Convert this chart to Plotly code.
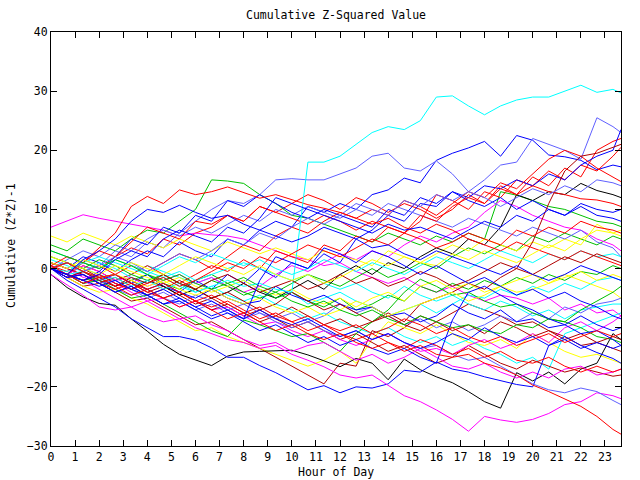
import plotly.graph_objects as go

# x positions: every 40 minutes from 0h, last sample at the right edge (23h40)
HOURS = [round(i * 2 / 3, 3) for i in range(36)] + [23.667]

# colours used by the original gnuplot chart
RED, GREEN, BLUE, MAGENTA, CYAN = "#ff0000", "#00c000", "#0000ff", "#ff00ff", "#00ffff"
DARKRED, YELLOW, BLACK, SLATE = "#b00000", "#ffff00", "#000000", "#6060ff"

cyan1 = [0, -1, -0.5, -2, -1.5, -3, -2, -3.5, -2.5, -4, -3, -2, -3, -2.5, -3.5, -4, 18, 18, 19, 21,
         23, 24, 23.5, 25, 29, 29.2, 27.5, 26, 27.5, 28.5, 29, 29, 30, 31, 29.8, 30.3, 29.7]
slate1 = [0, -1, 1.5, 0.5, 3, 2, 4.5, 3.5, 6, 8, 10, 11.5, 11, 12.5, 15, 15.2, 15, 15, 16, 17,
          19, 19.5, 17, 16.5, 18.2, 16, 13, 15, 17.5, 18, 22, 21, 20, 18.5, 25.5, 24, 23]
blue1 = [1, 0, 2, 1, -0.5, 1.5, 3, 2, 4.5, 3, 2, 5, 4, 6.5, 8, 7, 10.5, 9.5, 11, 10,
         12.5, 13.3, 15.3, 14.5, 18.3, 19.5, 20.4, 21.5, 19, 22.5, 21.7, 19.2, 18.9, 18.3, 16.7, 17.5, 17.2]
blue2 = [0, -1.5, -0.5, -2, -1, -2.5, -1, -3, -4, -2, -3.5, -1, -2.5, 0, -1.5, 1, 0, 2.5, 1, 5,
         6.5, 9, 8, 11, 10.5, 13, 12, 14, 13.5, 15, 14, 16, 15, 17.5, 19, 20, 23.5]
red1 = [0.5, -0.5, 1, 0, 2, 3.5, 2.5, 5, 4, 6, 7, 9, 8, 10.5, 9.5, 11, 12.5, 11.5, 10, 12,
        11, 9.5, 11, 10, 8.5, 10, 12.5, 11, 14, 12.5, 15.5, 14, 17, 15.5, 20, 21.5, 22]
red2 = [0, -1, 0.5, -0.5, -2, -1, 0.5, -1, -2.5, -1, 0.5, -0.5, 1.5, 0, 3, 2, 1, 4, 3, 5.5,
        4.5, 7, 6, 8, 12.5, 11.5, 10, 13, 12, 15, 14, 16.5, 15, 17.5, 16.5, 19, 20.5]
red3 = [0, 1, -0.5, 0.5, -1, 0.5, -0.5, 1, 2.5, 1.5, 0, 2, 4, 3, 5.5, 7, 6, 8, 9.5, 8.5,
        10, 9, 11.5, 10.5, 9, 11, 13, 12, 14.5, 13.5, 16, 18.5, 20, 19, 17, 15.5, 14.7]
red4 = [0, -1, 1, 3, 2, 4.5, 7, 6, 5, 8, 7.5, 9, 8, 10.5, 9.5, 8.5, 7.5, 9, 8, 6.5,
        8, 7, 6, 9, 8, 10.5, 12, 11, 13.5, 12.5, 14, 13, 12.5, 11.8, 11.6, 11, 10.5]
blue3 = [0, -1, -2, -0.5, 2, 5, 4, 7, 6, 9, 8, 11.5, 10.5, 12.5, 11, 9.5, 8.5, 10, 9, 8,
         7, 10, 9, 12, 11, 13, 11.5, 10.5, 12, 10, 11.5, 10, 9, 10.5, 9, 8.5, 8]
blue4 = [0, 1, -0.5, -1.5, -1, -2.5, -3.5, -2.5, -4, -5, -3.5, -5, -6, -5.5, -3, -4.5, -5.5, -4.5, -6, -7,
         -6.5, -8, -7.5, -9, -8, -6, -7.5, -8.5, -7, -9, -8.5, -10, -9.5, -8, -9.5, -10.5, -10]
blue5 = [0, -2, -3.5, -5, -6.5, -8.5, -10, -11.5, -11.5, -12.1, -13.4, -15, -15, -16.4, -17.6, -19, -20.5, -19.8, -21, -20,
         -20.2, -19.5, -17.2, -17.5, -15.8, -17, -17.5, -18.3, -19, -19.6, -20, -13, -11.5, -13, -14.2, -15.2, -16]
blue6 = [0, -1.5, -1, -2.5, -4, -3, -4.5, -6, -5.5, -7, -8.5, -7.5, -9, -10.5, -9.5, -11, -12.5, -11.5, -13, -12,
         -13.5, -14.5, -13.5, -15, -16, -8.7, -4, -3, -4.5, -6, -7, -8.5, -9.5, -11, -10.5, -12, -13]
black1 = [-1, -3.2, -4.8, -5.9, -6.2, -8.5, -10.6, -12.8, -14.5, -15.4, -16.4, -14.8, -14.1, -14, -13.9, -13.8, -14.6, -15.6, -16.6, -15.2,
          -16, -18.8, -15.3, -17.1, -18.3, -19.3, -20.8, -22.5, -23.6, -17.6, -19, -17.5, -19.5, -17, -16, -11, -12]
black2 = [0, -1, -2, -1, -2.5, -3.5, -2, -3, -4.5, -3.5, -5, -4, -2.5, -4, -5, -3.5, -2, -3.5, -1, 0.5,
          -1, 1, 0, 2, 3.5, 2.5, 5, 4, 7, 12.5, 11.5, 13, 12.5, 14.4, 13.2, 12.5, 12]
mag_bottom = [-1, -2.8, -4.5, -6.5, -7, -6.5, -8, -9, -8.5, -10, -11, -12, -12.5, -13.5, -13, -14.5, -15.5, -16.6, -18, -18.5,
              -18, -19.7, -21.5, -22.5, -23.9, -25.5, -27.5, -25, -25.6, -26, -25.5, -24.5, -23, -22.5, -21, -21.5, -22]
red_bottom = [0.5, -1, -2.5, -1.5, -3, -4.5, -3.5, -5, -6.5, -5.5, -7, -8.5, -7.5, -9, -10.5, -9.5, -11, -12, -11, -12.5,
              -13.5, -12.5, -14, -13, -14.5, -15, -14.5, -16, -16.8, -18, -19.7, -20.8, -22, -23.3, -25, -27.2, -28]
slate_bottom = [0, -1.5, -1, -2.5, -2, -3.5, -5, -4, -5.5, -7, -6, -7.5, -8.5, -7.5, -9, -10, -9, -10.5, -11.5, -10.5,
                -12, -11, -12.5, -13.5, -13, -14.5, -15.5, -15, -16.5, -18, -19.5, -20.5, -21, -20.2, -20.8, -22.3, -23]
green1 = [4, 3, 5, 4, 3, 5, 6.5, 6, 8, 10, 15, 14.8, 14.4, 12.5, 11, 9, 8.5, 7.5, 6.5, 5.5,
          4.5, 6, 5, 4, 5.5, 4.5, 6, 5, 13, 12.4, 11.5, 10.5, 10, 9, 8, 7.6, 7.1]
green2 = [0, -1, -2, -1.5, -3, -2, -1, -2.5, -3.5, -2, -1, -2.5, -1.5, -3, -4, -2.5, -1, -2, -3, -1.5,
          0, -1.5, -0.5, 1, 0, 2, 3.5, 2.5, 4, 3, 5.5, 4.5, 6, 5, 4, 5.5, 5]
green3 = [2, 1, 0, 1.5, 0.5, -1, -2, -1, -2.5, -3.5, -2, -3, -4.5, -3.5, -5, -4, -5.5, -6.5, -5, -7,
          -6, -4.5, -5.5, -3, -4, -2.5, -3.5, -2, -3, -1.5, -2.5, -1, -2, -0.5, -1, 0.5, 0]
green4 = [0.5, -1, -2.5, -2, -3.5, -5, -4.5, -6, -7.5, -9, -10.5, -11.5, -8.7, -9.5, -10.5, -11.5, -11, -12.5, -14, -11,
          -9, -7, -4, -1.8, -3, -4.5, -4, -5.5, -6.5, -6, -7.5, -8.5, -9, -10, -11.5, -12, -12.5]
green5 = [3, 2, 1, 0, 1.5, 0.5, -1, -2, -1, -2.5, -3.5, -2.5, -4, -5, -4, -5.5, -6.5, -5.5, -7, -8,
          -7, -8.5, -9.5, -8, -9, -10, -9.5, -10.5, -11, -9.5, -10, -8.5, -9, -7, -5.5, -4, -3]
red5 = [0.5, 2, 1, 3.5, 6, 10.5, 12.2, 11, 13.3, 12.5, 13, 13.8, 12.8, 11.9, 12.5, 11.6, 10.8, 10.2, 9.5, 8.5,
        7.5, 8.5, 7, 6, 7.5, 6.5, 5, 4, 3, 4.5, 3.5, 2.5, 1.5, 3, 2, 1, 0.5]
darkred1 = [0, -1.5, -3, -2.5, -4, -5.5, -5, -6.5, -8, -9.5, -9, -10.5, -12, -13.5, -15, -16.5, -18, -19.5, -16, -16.5,
            -10.5, -11.5, -10, -8, -9, -7.5, -6, -7, -8, -9.5, -9, -10.5, -11.5, -13, -12.5, -13.5, -14]
darkred2 = [0, 1, 0, -1.5, -1, -2.5, -4, -3, -4.5, -6, -5, -6.5, -8, -7, -8.5, -10, -9, -10.5, -12, -11,
            -12.5, -14, -13, -14.5, -16, -15, -13, -14.5, -16, -17, -15.5, -16.5, -17.5, -16.8, -17.5, -18.2, -18]
darkred3 = [0, -1, -2.5, -1.5, -3, -2, -3.5, -5, -4, -5.5, -7, -6, -7.5, -9, -8, -6.5, -8, -9.5, -8.5, -10,
            -9, -7.5, -9, -6, -5, -4, -2.5, -3.5, -1.5, 0, 4.5, 11, 16.5, 19, 19.5, 20.5, 21]
darkred4 = [1, 0, -1, -2.5, -1.5, -3, -4.5, -3.5, -2, -3.5, -5, -4, -5.5, -7, -6, -4, -5.5, -7, -6, -7.5,
            -9, -8, -9.5, -10.5, -9, -10.5, -9.5, -11, -9, -10, -11.5, -10.5, -12, -11, -12.5, -11.5, -12]
darkred5 = [0, -1.5, -0.5, -2, -3, -1.5, -2.5, -1, -2.5, -3.5, -2, -1, -2.5, -4, -3, -2, -3.5, -2.5, -1, -2.5,
            -1.5, -3, -2, -0.5, -1.5, -3, -2, -0.5, 1, 0, -1, 0.5, 2, 1, 2.5, 1.5, 1]
yellow1 = [0, -1.5, -3, -4, -3.5, -5, -6, -7.5, -9, -10.5, -10, -11.5, -12.5, -13.5, -14.5, -15.5, -16.5, -15.5, -14, -16,
           -12, -9, -10, -11, -9.5, -11, -12.5, -13, -12, -13.5, -11, -12.5, -14, -15, -14.5, -15.5, -16]
yellow2 = [5.5, 4.5, 6, 5, 4, 5.5, 4.5, 3.5, 5, 4, 3, 4.5, 3.5, 2.5, 3.5, 2.5, 1.5, 3, 2, 1.5,
           0.5, 3, 2, 1, 2.5, 4, 3, 5, 4, 3, 4.5, 3.5, 5, 4, 7.5, 6, 5.5]
yellow3 = [2, 1, 0, -1, 0.5, -0.5, -1.5, -2.5, -1.5, -3, -4, -3, -2, -3.5, -4.5, -3.5, -5, -6, -5, -6.5,
           -5, -4, -5.5, -3, -2, -3.5, -2.5, -4, -3, -2, -1, -2.5, -1.5, -0.5, -2, -1, -1.5]
yellow4 = [0, 1, -0.5, -1.5, -1, -2, -3, -2, -3.5, -4.5, -3.5, -5, -6, -5, -6.5, -7.5, -6.5, -8, -7, -5.5,
           -6.5, -8, -7, -6, -5, -4, -5.5, -4.5, -3, -4, -3.5, -2.5, -1, -2, -3, -4, -5]
yellow5 = [1, 0, 1.5, 0.5, -0.5, 1, 0, -1, 0.5, 2, 1, 0, -1, 0.5, -1, -2, -1, -2.5, -1.5, 0,
           1.5, 0.5, 2, 1, 0.5, 2.5, 1.5, 3, 2, 1, 2.5, 4, 3, 5, 6.5, 6, 6.5]
magenta1 = [7, 8, 9.1, 8.5, 8, 7.5, 7, 6.5, 5.5, 6, 5.7, 5.5, 5, 4, 3, 2, 1.5, 0.5, 1, -0.5,
            -1.5, -2.5, -1.5, -3, -4, -3, -4.5, -5.5, -4.5, -5, -6, -5, -7, -6, -7.5, -7, -8]
magenta2 = [0, -1, 0.5, -0.5, -2, -1.5, -3, -2, -1, -2.5, -1.5, -3, -4, -3, -1, 0.5, -0.5, 1, 2.5, 1.5,
            3, 2, 4, 5.5, 4.5, 6, 7, 9.5, 11.5, 10.5, 9, 8, 7, 6.5, 5, 4, 3]
magenta3 = [1, 0, -1.5, -1, -2.5, -4, -5.5, -5, -6.5, -5.5, -7, -6.5, -8, -9.5, -9, -10.5, -11.5, -10.5, -12, -13,
            -12, -11, -12.5, -14, -13.5, -14.5, -13, -12, -13.5, -12.5, -11, -12.5, -10, -9, -10.5, -9, -8]
magenta4 = [0.5, -1, -2, -3.5, -5, -6.5, -5.5, -7, -8.5, -8, -9.5, -10.5, -12, -13, -12.5, -14, -13, -12.5, -14, -15.5,
            -14.5, -16, -15, -13.5, -15, -16.5, -17, -16, -17.5, -18.5, -17.5, -18.5, -17, -16.5, -18, -17.5, -17]
cyan2 = [0, 1, 0, -1, -2, -1, 0.5, -0.5, -1.5, -2.5, -1.5, -3, -2, -3.5, -5, -4, -6, -5, -4, -5.5,
         -6.5, -8, -7, -6, -7.5, -6, -4.5, -5, -3.5, -4.5, -3, -4, -2.5, -3.5, -2, -1.5, -2]
cyan3 = [1.5, 0.5, -0.5, 1, 0, -1.5, -2.5, -1.5, -3, -4, -3, -4.5, -5.5, -4.5, -6, -7, -8.5, -7.5, -9, -10,
         -11, -10, -11.5, -12.5, -11.5, -13, -12, -13.5, -14.5, -16, -15, -17, -11, -10, -9, -8, -7.5]
cyan4 = [3, 2, 1, 0, 1.5, 0.5, -0.5, -1.5, -0.5, -2, -1, 0, 1, 0, -1, -2, -1, -2.5, -3.5, -2.5,
         -4, -5, -3, -4.5, -5.5, -4.5, -6, -7, -5.5, -6.5, -8, -7, -8.5, -7, -6.5, -6, -6]
cyan5 = [0, -0.5, 1, 2, 1, 0, -1, 0.5, 2, 1, 2.5, 1.5, 0.5, 1.5, 0, -1, 0, 1.5, 0.5, -0.5,
         1, 0, -1, 0.5, 2, 1, 0, 1.5, 3, 2, 1, 2.5, 1.5, 3, 2, 2.5, 2]
slate2 = [0, 1.5, 3, 2, 4, 3, 5, 6.5, 5.5, 7, 6, 7.5, 9, 8, 10, 9, 10.5, 9.5, 8.5, 10,
          9, 11, 10, 9, 8, 7, 8.5, 7.5, 6.5, 5.5, 7, 6, 5, 6.5, 4.5, 3.5, 2]
slate3 = [0, -1, -2.5, -2, -3.5, -4.5, -3.5, -5, -6, -4.5, -5.5, -7, -6, -7.5, -8.5, -7.5, -9, -8, -6, -7.5,
          -6.5, -8, -9.5, -8.5, -10, -9, -10.5, -9.5, -8, -9, -7.5, -8.5, -6.5, -7.5, -6, -5.5, -5]
slate4 = [0, 1, -0.5, 0.5, 2, 1, -0.5, 1, 2.5, 1.5, 3, 5, 4, 6, 5, 7, 8.5, 7.5, 9, 11,
          10, 9, 11.5, 10.5, 12.5, 11.5, 13, 12, 10.5, 12, 13.5, 12.5, 14, 13, 15, 14.5, 14]
blue7 = [0, -1, -2, -3, -2, -3.5, -4.5, -3.5, -5, -6.5, -5.5, -7, -8.5, -7, -8.5, -9.5, -8.5, -10, -11.5, -10.5,
         -12, -11, -12.5, -13.5, -12.5, -11, -12, -10, -11.5, -12.5, -11.5, -13, -12, -13.5, -12.5, -13.5, -13]
blue8 = [0, -1.5, -1, -2.5, -4, -3, -4.5, -6, -5, -6.5, -8, -7, -8.5, -2, 2, 1, 0, 3.5, 2.5, 1,
         3, 2, 0.5, -1, 0.5, -1, -2.5, -1.5, -3, -4.5, -3.5, -5, -4, -5.5, -6.5, -8, -8.5]
blue9 = [0, -1, 1.5, 3, 5, 8, 10, 9.5, 10.7, 9.5, 8.5, 9, 7.5, 6.5, 5.5, 4.5, 5.5, 7, 6, 5,
         3.5, 4, 2.5, 1.5, 3, 2, 1, 0, -1, 0.5, -1, -2, -1, 0.5, -0.5, -1.5, -2]
blue10 = [0, -1, -2, -1, 1.5, 3, 2, 5, 6.5, 5.5, 4.5, 7, 6, 8.5, 12, 11, 10, 9, 8, 7,
          6, 7.5, 6.5, 7, 6, 5, 6.5, 8, 7, 9, 8, 10, 9, 11, 10, 9.5, 10]
red6 = [0, -1.5, -1, -2.5, -3.5, -2.5, -4, -5, -4, -5.5, -6.5, -5.5, -7, -8.5, -7.5, -9, -10.5, -9.5, -11, -12,
        -11, -12.5, -13.5, -12, -13, -14.5, -13.5, -15, -14, -15.5, -16, -15, -16.5, -17.5, -16.5, -17.5, -17]
red7 = [0, -1, -2, -1, -2.5, -3.5, -2.5, -1.5, -3, -2, -0.5, 1, 0, 2, 1, 2.5, 4, 3, 2, 3.5,
        5, 4, 6, 5, 3.5, 4.5, 6, 5, 4, 6.5, 5.5, 7, 6, 8, 7, 6.5, 6]
red8 = [0, 1, -0.5, -1.5, -1, -2.5, -3.5, -2.5, -4, -5.5, -4.5, -6, -7.5, -6.5, -8, -9, -8, -9.5, -10.5, -9.5,
        -11, -10, -8.5, -9.5, -11, -10, -11.5, -12.5, -11.5, -13, -12, -11, -12.5, -11.5, -10.5, -11.5, -11]

SERIES = [
    (red1, RED), (green1, GREEN), (blue1, BLUE), (magenta1, MAGENTA), (cyan2, CYAN), (darkred1, DARKRED),
    (yellow1, YELLOW), (black1, BLACK), (slate1, SLATE),
    (red2, RED), (green2, GREEN), (blue2, BLUE), (magenta2, MAGENTA), (cyan3, CYAN), (darkred2, DARKRED),
    (yellow2, YELLOW), (black2, BLACK), (slate2, SLATE),
    (red3, RED), (green3, GREEN), (blue3, BLUE), (magenta3, MAGENTA), (cyan4, CYAN), (darkred3, DARKRED),
    (yellow3, YELLOW), (slate3, SLATE),
    (red4, RED), (green4, GREEN), (blue4, BLUE), (magenta4, MAGENTA), (cyan5, CYAN), (darkred4, DARKRED),
    (yellow4, YELLOW), (slate4, SLATE),
    (red5, RED), (green5, GREEN), (blue5, BLUE), (mag_bottom, MAGENTA), (cyan1, CYAN), (darkred5, DARKRED),
    (yellow5, YELLOW), (slate_bottom, SLATE),
    (red6, RED), (blue6, BLUE), (red7, RED), (blue7, BLUE), (red8, RED), (blue8, BLUE),
    (red_bottom, RED), (blue9, BLUE), (blue10, BLUE),
]

X_TICKS = list(range(0, 24))
Y_TICKS = [-30, -20, -10, 0, 10, 20, 30, 40]

FONT = dict(family="DejaVu Sans Mono", size=11.5, color="black")

fig = go.Figure()
for vals, col in SERIES:
    fig.add_trace(go.Scatter(x=HOURS, y=vals, mode="lines",
                             line=dict(color=col, width=1), hoverinfo="skip"))

axis_common = dict(showline=True, linecolor="black", linewidth=1, mirror="ticks",
                   ticks="inside", ticklen=6, tickcolor="black", tickwidth=1,
                   showgrid=False, zeroline=False, tickfont=FONT)

fig.update_layout(
    width=640, height=480,
    margin=dict(l=51, r=19, t=32, b=34),
    paper_bgcolor="white", plot_bgcolor="white",
    showlegend=False,
    title=dict(text="Cumulative Z-Squared Value", font=FONT, x=0.5, xref="paper",
               y=1 - 15 / 480, yref="container", xanchor="center", yanchor="middle"),
    xaxis=dict(range=[0, 71 / 3], tickvals=X_TICKS, **axis_common),
    yaxis=dict(range=[-30, 40], tickvals=Y_TICKS, **axis_common),
    annotations=[
        dict(text="Hour of Day", xref="paper", yref="paper", x=0.5, y=(446 - 472) / 414,
             xanchor="center", yanchor="middle", showarrow=False, font=FONT),
        dict(text="Cumulative (Z*Z)-1", xref="paper", yref="paper", x=(11 - 51) / 570,
             y=(446 - 246) / 414, xanchor="center", yanchor="middle", textangle=-90,
             showarrow=False, font=FONT),
    ],
)

fig.write_html("out.html")
